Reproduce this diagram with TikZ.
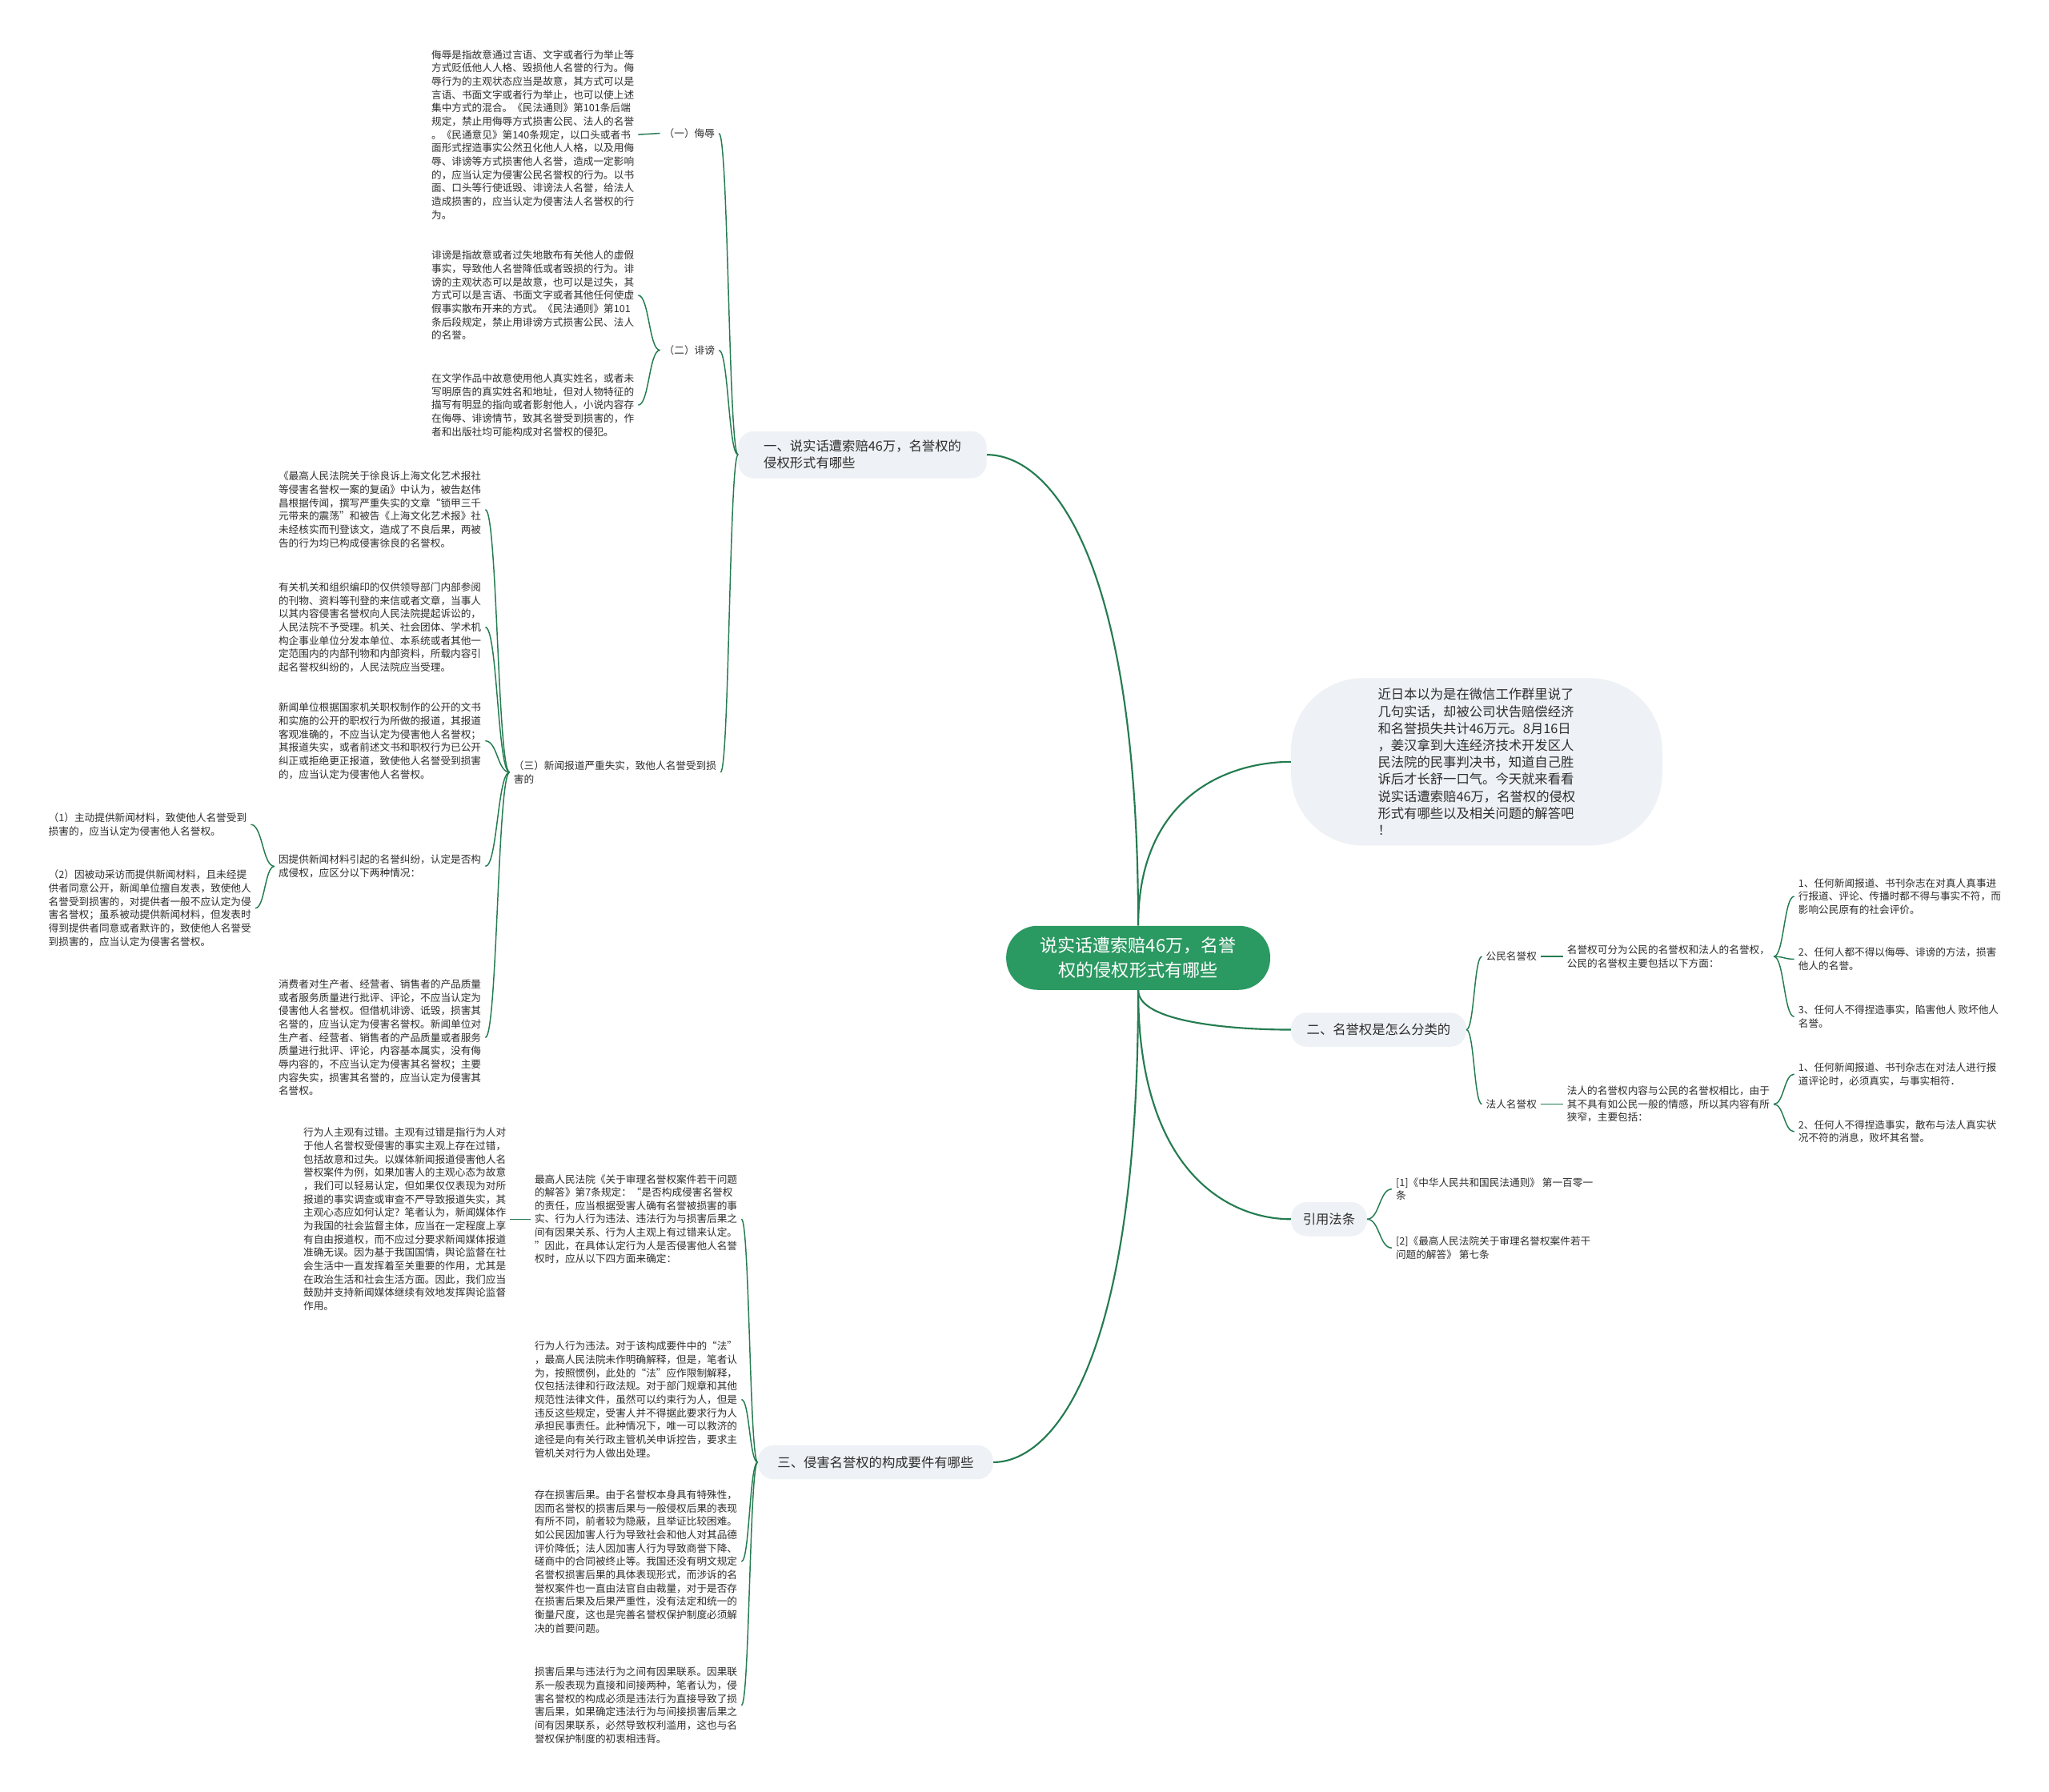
\documentclass[tikz,border=0pt]{standalone}
\usepackage{fontspec}
\setmainfont{Noto Sans CJK SC}
\usetikzlibrary{calc}
\definecolor{lk}{RGB}{36,124,80}
\definecolor{rootg}{RGB}{43,153,98}
\definecolor{bfill}{RGB}{238,241,245}
\definecolor{tx}{RGB}{45,45,45}
\tikzset{
  txt/.style={font=\fontsize{7.75}{10.2}\selectfont, text=tx, align=left, inner xsep=3pt, inner ysep=0pt, anchor=west},
  link/.style={draw=lk, line width=0.9pt},
  rlink/.style={draw=lk, line width=1.3pt},
  bnode/.style={fill=bfill, rounded corners=12pt, font=\fontsize{10}{13}\selectfont, text=tx, align=left, inner sep=0pt},
}
\newcommand\lnk[2]{\draw[link] let \p1=(#1), \p2=(#2) in (\p1) .. controls ({(\x1+\x2)/2},\y1) and ({(\x1+\x2)/2},\y2) .. (\p2);}
\newcommand\rlk[2]{\draw[rlink] let \p1=(#1), \p2=(#2) in (\p1) .. controls (\x1,{\y2+0.2*(\y1-\y2)}) and ({\x2+0.4*(\x1-\x2)},\y2) .. (\p2);}
\begin{document}
\begin{tikzpicture}[x=1pt,y=-1pt]
\useasboundingbox (0,0) rectangle (1568,1371);
\fill[white] (0,0) rectangle (1568,1371);

% root and first-level nodes
\node[fill=rootg, rounded corners=24pt, minimum width=202pt, minimum height=49pt, text=white, align=center, font=\fontsize{13.5}{19}\selectfont, inner sep=0pt] (root) at (871,733) {说实话遭索赔46万，名誉\\权的侵权形式有哪些};
\node[bnode, minimum width=190pt, minimum height=36pt] (b1) at (660,348) {一、说实话遭索赔46万，名誉权的\\侵权形式有哪些};
\node[bnode, rounded corners=55pt, minimum width=284pt, minimum height=128pt] (intro) at (1130,583) {近日本以为是在微信工作群里说了\\几句实话，却被公司状告赔偿经济\\和名誉损失共计46万元。8月16日\\，姜汉拿到大连经济技术开发区人\\民法院的民事判决书，知道自己胜\\诉后才长舒一口气。今天就来看看\\说实话遭索赔46万，名誉权的侵权\\形式有哪些以及相关问题的解答吧\\！};
\node[bnode, minimum width=134pt, minimum height=26pt] (b2) at (1055,788) {二、名誉权是怎么分类的};
\node[bnode, minimum width=58pt, minimum height=26pt] (b3) at (1017,933) {引用法条};
\node[bnode, minimum width=180pt, minimum height=26pt] (b4) at (670,1119) {三、侵害名誉权的构成要件有哪些};

% branch one
\node[txt] (wuL) at (505,102) {（一）侮辱};
\node[txt] (wuT) at (327,103) {侮辱是指故意通过言语、文字或者行为举止等\\方式贬低他人人格、毁损他人名誉的行为。侮\\辱行为的主观状态应当是故意，其方式可以是\\言语、书面文字或者行为举止，也可以使上述\\集中方式的混合。《民法通则》第101条后端\\规定，禁止用侮辱方式损害公民、法人的名誉\\。《民通意见》第140条规定，以口头或者书\\面形式捏造事实公然丑化他人人格，以及用侮\\辱、诽谤等方式损害他人名誉，造成一定影响\\的，应当认定为侵害公民名誉权的行为。以书\\面、口头等行使诋毁、诽谤法人名誉，给法人\\造成损害的，应当认定为侵害法人名誉权的行\\为。};
\node[txt] (fbL) at (505,268) {（二）诽谤};
\node[txt] (fb1) at (327,226) {诽谤是指故意或者过失地散布有关他人的虚假\\事实，导致他人名誉降低或者毁损的行为。诽\\谤的主观状态可以是故意，也可以是过失，其\\方式可以是言语、书面文字或者其他任何使虚\\假事实散布开来的方式。《民法通则》第101\\条后段规定，禁止用诽谤方式损害公民、法人\\的名誉。};
\node[txt] (fb2) at (327,310) {在文学作品中故意使用他人真实姓名，或者未\\写明原告的真实姓名和地址，但对人物特征的\\描写有明显的指向或者影射他人，小说内容存\\在侮辱、诽谤情节，致其名誉受到损害的，作\\者和出版社均可能构成对名誉权的侵犯。};
\node[txt] (snL) at (390,591) {（三）新闻报道严重失实，致他人名誉受到损\\害的};
\node[txt] (xl) at (210,390) {《最高人民法院关于徐良诉上海文化艺术报社\\等侵害名誉权一案的复函》中认为，被告赵伟\\昌根据传闻，撰写严重失实的文章“锁甲三千\\元带来的震荡”和被告《上海文化艺术报》社\\未经核实而刊登该文，造成了不良后果，两被\\告的行为均已构成侵害徐良的名誉权。};
\node[txt] (yg) at (210,480) {有关机关和组织编印的仅供领导部门内部参阅\\的刊物、资料等刊登的来信或者文章，当事人\\以其内容侵害名誉权向人民法院提起诉讼的，\\人民法院不予受理。机关、社会团体、学术机\\构企事业单位分发本单位、本系统或者其他一\\定范围内的内部刊物和内部资料，所载内容引\\起名誉权纠纷的，人民法院应当受理。};
\node[txt] (xw) at (210,567) {新闻单位根据国家机关职权制作的公开的文书\\和实施的公开的职权行为所做的报道，其报道\\客观准确的，不应当认定为侵害他人名誉权；\\其报道失实，或者前述文书和职权行为已公开\\纠正或拒绝更正报道，致使他人名誉受到损害\\的，应当认定为侵害他人名誉权。};
\node[txt] (yt) at (210,663) {因提供新闻材料引起的名誉纠纷，认定是否构\\成侵权，应区分以下两种情况：};
\node[txt] (p1) at (34,631) {（1）主动提供新闻材料，致使他人名誉受到\\损害的，应当认定为侵害他人名誉权。};
\node[txt] (p2) at (34,695) {（2）因被动采访而提供新闻材料，且未经提\\供者同意公开，新闻单位擅自发表，致使他人\\名誉受到损害的，对提供者一般不应认定为侵\\害名誉权；虽系被动提供新闻材料，但发表时\\得到提供者同意或者默许的，致使他人名誉受\\到损害的，应当认定为侵害名誉权。};
\node[txt] (xf) at (210,794) {消费者对生产者、经营者、销售者的产品质量\\或者服务质量进行批评、评论，不应当认定为\\侵害他人名誉权。但借机诽谤、诋毁，损害其\\名誉的，应当认定为侵害名誉权。新闻单位对\\生产者、经营者、销售者的产品质量或者服务\\质量进行批评、评论，内容基本属实，没有侮\\辱内容的，不应当认定为侵害其名誉权；主要\\内容失实，损害其名誉的，应当认定为侵害其\\名誉权。};

% branch three
\node[txt] (zg) at (406,933) {最高人民法院《关于审理名誉权案件若干问题\\的解答》第7条规定：“是否构成侵害名誉权\\的责任，应当根据受害人确有名誉被损害的事\\实、行为人行为违法、违法行为与损害后果之\\间有因果关系、行为人主观上有过错来认定。\\”因此，在具体认定行为人是否侵害他人名誉\\权时，应从以下四方面来确定：};
\node[txt] (zc) at (229,933) {行为人主观有过错。主观有过错是指行为人对\\于他人名誉权受侵害的事实主观上存在过错，\\包括故意和过失。以媒体新闻报道侵害他人名\\誉权案件为例，如果加害人的主观心态为故意\\，我们可以轻易认定，但如果仅仅表现为对所\\报道的事实调查或审查不严导致报道失实，其\\主观心态应如何认定？笔者认为，新闻媒体作\\为我国的社会监督主体，应当在一定程度上享\\有自由报道权，而不应过分要求新闻媒体报道\\准确无误。因为基于我国国情，舆论监督在社\\会生活中一直发挥着至关重要的作用，尤其是\\在政治生活和社会生活方面。因此，我们应当\\鼓励并支持新闻媒体继续有效地发挥舆论监督\\作用。};
\node[txt] (wf) at (406,1071) {行为人行为违法。对于该构成要件中的“法”\\，最高人民法院未作明确解释，但是，笔者认\\为，按照惯例，此处的“法”应作限制解释，\\仅包括法律和行政法规。对于部门规章和其他\\规范性法律文件，虽然可以约束行为人，但是\\违反这些规定，受害人并不得据此要求行为人\\承担民事责任。此种情况下，唯一可以救济的\\途径是向有关行政主管机关申诉控告，要求主\\管机关对行为人做出处理。};
\node[txt] (sh) at (406,1195) {存在损害后果。由于名誉权本身具有特殊性，\\因而名誉权的损害后果与一般侵权后果的表现\\有所不同，前者较为隐蔽，且举证比较困难。\\如公民因加害人行为导致社会和他人对其品德\\评价降低；法人因加害人行为导致商誉下降、\\磋商中的合同被终止等。我国还没有明文规定\\名誉权损害后果的具体表现形式，而涉诉的名\\誉权案件也一直由法官自由裁量，对于是否存\\在损害后果及后果严重性，没有法定和统一的\\衡量尺度，这也是完善名誉权保护制度必须解\\决的首要问题。};
\node[txt] (yg2) at (406,1305) {损害后果与违法行为之间有因果联系。因果联\\系一般表现为直接和间接两种，笔者认为，侵\\害名誉权的构成必须是违法行为直接导致了损\\害后果，如果确定违法行为与间接损害后果之\\间有因果联系，必然导致权利滥用，这也与名\\誉权保护制度的初衷相违背。};

% branch two
\node[txt] (gm) at (1134,732) {公民名誉权};
\node[txt] (gmT) at (1196,732) {名誉权可分为公民的名誉权和法人的名誉权，\\公民的名誉权主要包括以下方面：};
\node[txt] (c1) at (1373,686) {1、任何新闻报道、书刊杂志在对真人真事进\\行报道、评论、传播时都不得与事实不符，而\\影响公民原有的社会评价。};
\node[txt] (c2) at (1373,734) {2、任何人都不得以侮辱、诽谤的方法，损害\\他人的名誉。};
\node[txt] (c3) at (1373,778) {3、任何人不得捏造事实，陷害他人 败坏他人\\名誉。};
\node[txt] (fr) at (1134,845) {法人名誉权};
\node[txt] (frT) at (1196,845) {法人的名誉权内容与公民的名誉权相比，由于\\其不具有如公民一般的情感，所以其内容有所\\狭窄，主要包括：};
\node[txt] (d1) at (1373,822) {1、任何新闻报道、书刊杂志在对法人进行报\\道评论时，必须真实，与事实相符．};
\node[txt] (d2) at (1373,866) {2、任何人不得捏造事实，散布与法人真实状\\况不符的消息，败坏其名誉。};

% citations
\node[txt] (r1) at (1065,910) {[1]《中华人民共和国民法通则》 第一百零一\\条};
\node[txt] (r2) at (1065,955) {[2]《最高人民法院关于审理名誉权案件若干\\问题的解答》 第七条};

% root links
\rlk{root.north}{b1.east}
\rlk{root.north}{intro.west}
\rlk{root.south}{b2.west}
\rlk{root.south}{b3.west}
\rlk{root.south}{b4.east}

% branch one links
\lnk{b1.west}{wuL.east}
\lnk{b1.west}{fbL.east}
\lnk{b1.west}{snL.east}
\lnk{wuL.west}{wuT.east}
\lnk{fbL.west}{fb1.east}
\lnk{fbL.west}{fb2.east}
\lnk{snL.west}{xl.east}
\lnk{snL.west}{yg.east}
\lnk{snL.west}{xw.east}
\lnk{snL.west}{yt.east}
\lnk{snL.west}{xf.east}
\lnk{yt.west}{p1.east}
\lnk{yt.west}{p2.east}

% branch three links
\lnk{b4.west}{zg.east}
\lnk{b4.west}{wf.east}
\lnk{b4.west}{sh.east}
\lnk{b4.west}{yg2.east}
\lnk{zg.west}{zc.east}

% branch two links
\lnk{b2.east}{gm.west}
\lnk{b2.east}{fr.west}
\lnk{gm.east}{gmT.west}
\lnk{gmT.east}{c1.west}
\lnk{gmT.east}{c2.west}
\lnk{gmT.east}{c3.west}
\lnk{fr.east}{frT.west}
\lnk{frT.east}{d1.west}
\lnk{frT.east}{d2.west}

% citation links
\lnk{b3.east}{r1.west}
\lnk{b3.east}{r2.west}
\end{tikzpicture}
\end{document}
